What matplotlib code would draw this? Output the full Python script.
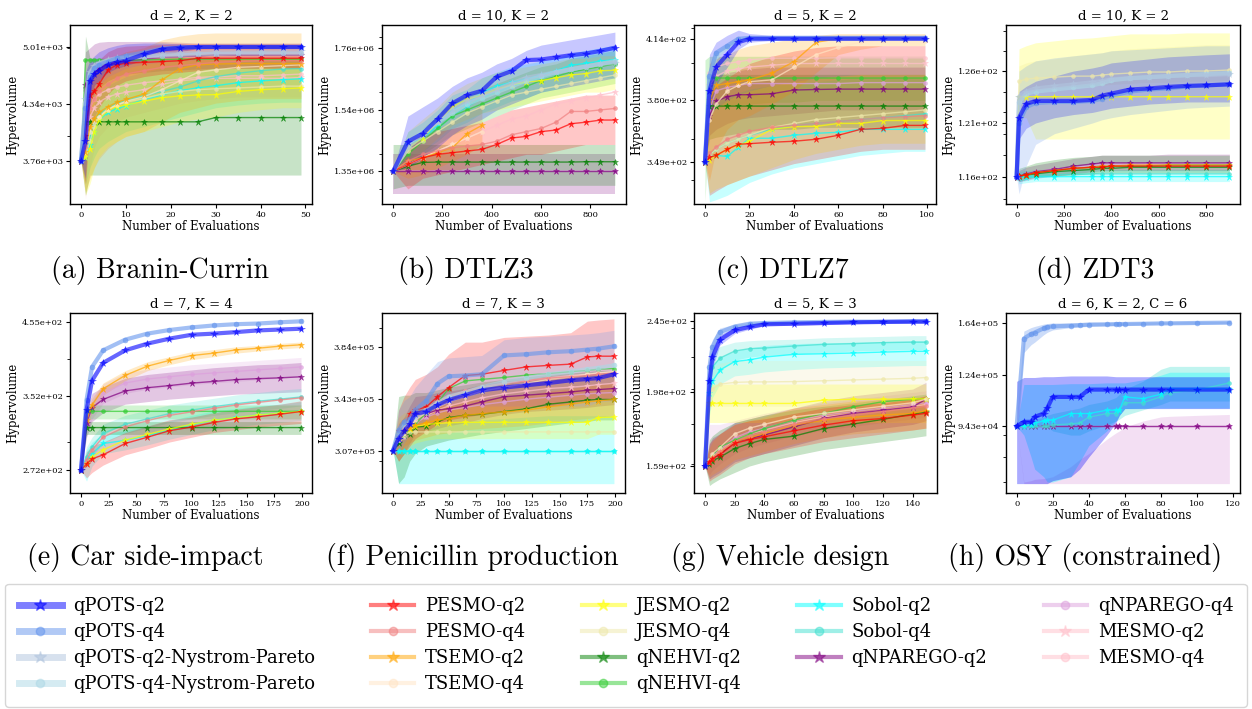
import numpy as np
import matplotlib.pyplot as plt
from matplotlib.lines import Line2D
from matplotlib.ticker import FixedLocator, FormatStrFormatter, NullFormatter

plt.rcParams['font.family'] = 'DejaVu Serif'
plt.rcParams['axes.unicode_minus'] = False

methods = ['qPOTS-q2', 'qPOTS-q4', 'qPOTS-q2-Nystrom-Pareto', 'qPOTS-q4-Nystrom-Pareto',
           'PESMO-q2', 'PESMO-q4', 'TSEMO-q2', 'TSEMO-q4',
           'JESMO-q2', 'JESMO-q4', 'qNEHVI-q2', 'qNEHVI-q4',
           'Sobol-q2', 'Sobol-q4', 'qNPAREGO-q2',
           'qNPAREGO-q4', 'MESMO-q2', 'MESMO-q4']
colors = ['blue', 'cornflowerblue', 'lightsteelblue', 'lightblue',
          'red', 'lightcoral', 'orange', 'bisque',
          'yellow', 'palegoldenrod', 'green', 'limegreen',
          'cyan', 'turquoise', 'purple',
          'plum', 'pink', 'pink']

# ---- (a) Branin-Currin ----
bc_x = [0, 1, 2, 3, 4, 6, 8, 10, 14, 18, 22, 26, 30, 35, 40, 45, 49]
bc_mean = {
    'qPOTS-q2': [3760, 3950, 4600, 4680, 4720, 4790, 4820, 4840, 4920, 4980, 5000, 5010, 5010, 5010, 5010, 5010, 5010],
    'qPOTS-q4': [3760, 4300, 4650, 4750, 4790, 4830, 4870, 4900, 4940, 4990, 5005, 5010, 5012, 5012, 5012, 5012, 5012],
    'qPOTS-q2-Nystrom-Pareto': [3760, 4400, 4700, 4780, 4810, 4850, 4870, 4880, 4900, 4920, 4930, 4940, 4950, 4950, 4950, 4955, 4955],
    'qPOTS-q4-Nystrom-Pareto': [3760, 4350, 4680, 4760, 4800, 4840, 4860, 4870, 4890, 4900, 4910, 4920, 4925, 4930, 4930, 4930, 4930],
    'PESMO-q2': [3760, 4000, 4445, 4480, 4560, 4730, 4790, 4810, 4820, 4830, 4840, 4870, 4870, 4870, 4870, 4870, 4870],
    'PESMO-q4': [3760, 3900, 4300, 4400, 4480, 4560, 4630, 4680, 4720, 4760, 4780, 4800, 4820, 4830, 4840, 4840, 4840],
    'TSEMO-q2': [3760, 3850, 4100, 4180, 4250, 4310, 4360, 4390, 4450, 4610, 4745, 4790, 4800, 4805, 4805, 4805, 4805],
    'TSEMO-q4': [3760, 3850, 4050, 4150, 4200, 4280, 4330, 4370, 4420, 4500, 4600, 4700, 4730, 4760, 4770, 4780, 4790],
    'JESMO-q2': [3760, 3800, 3880, 4050, 4170, 4280, 4310, 4330, 4370, 4410, 4430, 4440, 4445, 4480, 4500, 4510, 4520],
    'JESMO-q4': [3760, 3820, 3950, 4100, 4200, 4290, 4330, 4360, 4400, 4450, 4480, 4500, 4510, 4520, 4530, 4540, 4540],
    'qNEHVI-q2': [3760, 4150, 4150, 4150, 4150, 4150, 4150, 4150, 4150, 4150, 4150, 4150, 4195, 4195, 4195, 4195, 4195],
    'qNEHVI-q4': [3760, 4848, 4848, 4848, 4848, 4848, 4848, 4848, 4850, 4855, 4860, 4860, 4860, 4860, 4860, 4860, 4860],
    'Sobol-q2': [3760, 3800, 3913, 4050, 4170, 4250, 4290, 4320, 4390, 4440, 4490, 4520, 4545, 4580, 4600, 4615, 4625],
    'Sobol-q4': [3760, 3850, 4000, 4150, 4230, 4300, 4350, 4380, 4430, 4480, 4530, 4600, 4650, 4690, 4720, 4740, 4745],
    'qNPAREGO-q2': [3760, 4550, 4620, 4700, 4750, 4800, 4820, 4840, 4860, 4880, 4890, 4900, 4910, 4910, 4910, 4910, 4910],
    'qNPAREGO-q4': [3760, 4500, 4650, 4720, 4760, 4800, 4830, 4850, 4870, 4900, 4920, 4930, 4935, 4935, 4935, 4935, 4935],
    'MESMO-q2': [3760, 3900, 4200, 4300, 4360, 4420, 4450, 4470, 4500, 4560, 4600, 4620, 4630, 4630, 4630, 4630, 4640],
    'MESMO-q4': [3760, 3950, 4300, 4400, 4450, 4500, 4530, 4550, 4580, 4600, 4620, 4640, 4650, 4660, 4660, 4670, 4680],
}
bc_lo = {
    'qPOTS-q2': [3760, 3600, 4400, 4550, 4600, 4700, 4750, 4780, 4850, 4920, 4950, 4990, 5000, 5000, 5000, 5000, 5000],
    'qNPAREGO-q2': [3760, 4100, 4350, 4450, 4520, 4600, 4650, 4680, 4700, 4720, 4730, 4740, 4750, 4750, 4750, 4750, 4750],
    'qNEHVI-q2': [3760, 3450, 3630, 3630, 3630, 3630, 3630, 3630, 3630, 3630, 3630, 3630, 3630, 3630, 3630, 3630, 3630],
    'TSEMO-q2': [3760, 3480, 3600, 3700, 3780, 3880, 3950, 4000, 4050, 4150, 4250, 4300, 4350, 4380, 4400, 4400, 4400],
    'Sobol-q2': [3760, 3550, 3700, 3800, 3880, 3950, 4000, 4050, 4100, 4150, 4200, 4250, 4300, 4330, 4350, 4360, 4360],
    'JESMO-q2': [3760, 3450, 3550, 3700, 3800, 3900, 3950, 4000, 4050, 4100, 4150, 4180, 4200, 4250, 4280, 4300, 4300],
    'PESMO-q2': [3760, 3550, 4100, 4200, 4300, 4450, 4550, 4600, 4650, 4680, 4700, 4720, 4750, 4750, 4750, 4750, 4750],
    'MESMO-q2': [3760, 3420, 3700, 3900, 4000, 4100, 4150, 4200, 4250, 4300, 4350, 4380, 4400, 4420, 4420, 4420, 4420],
}
bc_hi = {
    'qPOTS-q2': [3760, 4700, 4850, 4900, 4950, 5000, 5030, 5050, 5060, 5060, 5050, 5030, 5030, 5030, 5030, 5030, 5030],
    'qNPAREGO-q2': [3760, 4950, 5000, 5050, 5070, 5080, 5080, 5080, 5080, 5080, 5070, 5060, 5060, 5060, 5060, 5060, 5060],
    'qNEHVI-q2': [3760, 5150, 4870, 4870, 4870, 4870, 4870, 4870, 4870, 4870, 4870, 4870, 4870, 4870, 4870, 4870, 4870],
    'TSEMO-q2': [3760, 4300, 4600, 4700, 4780, 4850, 4900, 4950, 5000, 5100, 5150, 5180, 5190, 5190, 5190, 5190, 5190],
    'Sobol-q2': [3760, 4050, 4200, 4350, 4450, 4550, 4600, 4650, 4700, 4750, 4780, 4800, 4820, 4840, 4850, 4860, 4860],
    'JESMO-q2': [3760, 4150, 4350, 4450, 4550, 4650, 4700, 4750, 4800, 4820, 4840, 4850, 4860, 4870, 4880, 4880, 4880],
    'PESMO-q2': [3760, 4500, 4750, 4800, 4850, 4950, 5000, 5020, 5030, 5040, 5050, 5050, 5050, 5050, 5050, 5050, 5050],
    'MESMO-q2': [3760, 4300, 4600, 4650, 4700, 4750, 4780, 4800, 4820, 4840, 4850, 4860, 4870, 4870, 4870, 4870, 4870],
}

# ---- (b) DTLZ3, hypervolume in millions ----
dtlz3_x = [0, 60, 120, 180, 240, 300, 360, 420, 480, 540, 600, 660, 720, 780, 840, 899]
dtlz3_mean = {
    'qPOTS-q2': [1.35, 1.439, 1.464, 1.510, 1.562, 1.590, 1.605, 1.654, 1.674, 1.714, 1.716, 1.724, 1.732, 1.738, 1.748, 1.760],
    'qPOTS-q2-Nystrom-Pareto': [1.35, 1.42, 1.46, 1.50, 1.54, 1.57, 1.59, 1.61, 1.63, 1.65, 1.66, 1.67, 1.68, 1.69, 1.70, 1.705],
    'qPOTS-q4-Nystrom-Pareto': [1.35, 1.43, 1.47, 1.50, 1.53, 1.56, 1.58, 1.60, 1.62, 1.64, 1.655, 1.67, 1.68, 1.69, 1.70, 1.71],
    'PESMO-q2': [1.35, 1.37, 1.39, 1.40, 1.405, 1.41, 1.415, 1.43, 1.45, 1.455, 1.47, 1.475, 1.495, 1.50, 1.507, 1.507],
    'PESMO-q4': [1.35, 1.38, 1.40, 1.41, 1.42, 1.425, 1.43, 1.44, 1.46, 1.47, 1.48, 1.50, 1.535, 1.535, 1.54, 1.545],
    'TSEMO-q2': [1.35, 1.38, 1.39, 1.405, 1.42, 1.464, 1.49, None, None, None, None, None, None, None, None, None],
    'TSEMO-q4': [1.35, 1.37, 1.39, 1.41, 1.43, 1.45, 1.47, None, None, None, None, None, None, None, None, None],
    'JESMO-q2': [1.35, 1.42, 1.45, 1.50, 1.55, 1.575, 1.59, 1.61, 1.625, 1.635, 1.64, 1.65, 1.66, 1.665, 1.675, 1.677],
    'JESMO-q4': [1.35, 1.41, 1.44, 1.47, 1.50, 1.53, 1.55, 1.57, 1.59, 1.60, 1.61, 1.62, 1.63, 1.64, 1.65, 1.66],
    'qNEHVI-q2': [1.35, 1.365, 1.376, 1.377, 1.377, 1.377, 1.377, 1.377, 1.377, 1.377, 1.377, 1.377, 1.377, 1.378, 1.378, 1.378],
    'qNEHVI-q4': [1.35, 1.40, 1.44, 1.48, 1.52, 1.54, 1.56, 1.58, 1.60, 1.62, 1.64, 1.655, 1.67, 1.68, 1.69, 1.70],
    'Sobol-q2': [1.35, 1.43, 1.45, 1.49, 1.54, 1.56, 1.60, 1.62, 1.635, 1.645, 1.66, 1.675, 1.695, 1.702, 1.71, 1.716],
    'Sobol-q4': [1.35, 1.42, 1.45, 1.48, 1.52, 1.55, 1.58, 1.60, 1.62, 1.635, 1.65, 1.665, 1.68, 1.69, 1.70, 1.705],
    'qNPAREGO-q2': [1.35, 1.35, 1.35, 1.35, 1.35, 1.35, 1.35, 1.35, 1.35, 1.35, 1.35, 1.35, 1.35, 1.35, 1.35, 1.35],
    'qNPAREGO-q4': [1.35, 1.351, 1.351, 1.351, 1.351, 1.351, 1.351, 1.351, 1.351, 1.351, 1.351, 1.351, 1.351, 1.351, 1.351, 1.351],
    'MESMO-q2': [1.35, 1.37, 1.39, 1.41, 1.43, 1.45, 1.47, 1.49, 1.51, 1.52, 1.54, 1.56, 1.57, 1.58, 1.59, 1.60],
}
dtlz3_lo = {
    'qPOTS-q2': [1.35, 1.36, 1.39, 1.42, 1.46, 1.49, 1.51, 1.54, 1.56, 1.58, 1.60, 1.61, 1.62, 1.63, 1.64, 1.65],
    'Sobol-q2': [1.35, 1.39, 1.41, 1.44, 1.48, 1.50, 1.53, 1.55, 1.57, 1.58, 1.60, 1.61, 1.63, 1.64, 1.65, 1.65],
    'JESMO-q2': [1.35, 1.38, 1.41, 1.45, 1.49, 1.51, 1.53, 1.54, 1.55, 1.56, 1.57, 1.58, 1.59, 1.60, 1.60, 1.61],
    'qNEHVI-q4': [1.35, 1.36, 1.40, 1.43, 1.46, 1.48, 1.50, 1.52, 1.54, 1.56, 1.58, 1.59, 1.60, 1.61, 1.62, 1.63],
    'PESMO-q2': [1.35, 1.30, 1.33, 1.34, 1.35, 1.36, 1.37, 1.38, 1.39, 1.40, 1.40, 1.41, 1.42, 1.43, 1.43, 1.43],
    'TSEMO-q2': [1.35, 1.33, 1.34, 1.36, 1.38, 1.40, 1.43, None, None, None, None, None, None, None, None, None],
    'qNEHVI-q2': [1.30, 1.31, 1.31, 1.31, 1.31, 1.31, 1.31, 1.31, 1.31, 1.31, 1.31, 1.31, 1.31, 1.31, 1.31, 1.31],
    'qNPAREGO-q2': [1.285, 1.285, 1.285, 1.285, 1.285, 1.285, 1.285, 1.285, 1.285, 1.285, 1.285, 1.285, 1.285, 1.285, 1.285, 1.285],
}
dtlz3_hi = {
    'qPOTS-q2': [1.35, 1.52, 1.55, 1.58, 1.62, 1.65, 1.67, 1.70, 1.72, 1.75, 1.77, 1.78, 1.79, 1.80, 1.81, 1.82],
    'Sobol-q2': [1.35, 1.47, 1.50, 1.54, 1.59, 1.61, 1.65, 1.67, 1.69, 1.70, 1.71, 1.72, 1.74, 1.75, 1.76, 1.77],
    'JESMO-q2': [1.35, 1.47, 1.51, 1.55, 1.60, 1.63, 1.65, 1.67, 1.68, 1.69, 1.70, 1.71, 1.72, 1.72, 1.73, 1.73],
    'qNEHVI-q4': [1.35, 1.44, 1.48, 1.52, 1.57, 1.59, 1.61, 1.63, 1.65, 1.67, 1.69, 1.70, 1.72, 1.73, 1.74, 1.75],
    'PESMO-q2': [1.35, 1.44, 1.46, 1.47, 1.48, 1.49, 1.50, 1.52, 1.54, 1.55, 1.56, 1.57, 1.58, 1.59, 1.59, 1.59],
    'TSEMO-q2': [1.35, 1.44, 1.46, 1.48, 1.50, 1.53, 1.56, None, None, None, None, None, None, None, None, None],
    'qNEHVI-q2': [1.43, 1.43, 1.43, 1.43, 1.43, 1.43, 1.43, 1.43, 1.43, 1.43, 1.43, 1.43, 1.43, 1.43, 1.43, 1.43],
    'qNPAREGO-q2': [1.40, 1.40, 1.40, 1.40, 1.40, 1.40, 1.40, 1.40, 1.40, 1.40, 1.40, 1.40, 1.40, 1.40, 1.40, 1.40],
}

# ---- (c) DTLZ7 ----
dtlz7_x = [0, 2, 5, 10, 15, 20, 30, 40, 50, 60, 70, 80, 90, 99]
dtlz7_mean = {
    'qPOTS-q2': [349, 385, 398, 405, 412, 414, 414, 414, 414, 414, 414, 414, 414, 414],
    'qPOTS-q4': [349, 393, 406, 410, 414, 414.5, 414.5, 414.5, 414.5, 414.5, 414.5, 414.5, 414.5, 414.5],
    'qPOTS-q4-Nystrom-Pareto': [349, 392, 404, 409, 413, 414, 414, 414, 414, 414, 414, 414, 414, 414],
    'PESMO-q2': [349, 351, 352, 355, 357.5, 357.8, 358.5, 359, 360, 362, 365, 365.5, 367, 367],
    'PESMO-q4': [349, 353, 356, 360, 362, 364, 366, 367, 368, 369, 370, 371, 371.5, 372],
    'TSEMO-q2': [349, 380, 388, 389, 390, 391, 394.6, 401, 412, 414, 414, 414, 414, 414],
    'TSEMO-q4': [349, 370, 378, 385, 388, 390, 391, 398, 405, 409, 412, 413, 413, 413],
    'JESMO-q2': [349, 350, 352, 355, 357, 359, 365, 366.4, 366.5, 368, 368, 369.5, 369.5, 369.5],
    'JESMO-q4': [349, 352, 355, 358, 360, 362, 366, 368, 370, 371, 372, 373, 374, 375],
    'qNEHVI-q2': [349, 377, 377, 377, 377, 377, 377, 377, 377, 377, 377, 377, 377, 377],
    'qNEHVI-q4': [349, 392, 392, 392, 392, 392, 392, 392, 392, 392, 392, 392, 392, 392],
    'Sobol-q2': [349, 351, 352, 351.5, 356, 360.5, 360.5, 362, 363, 363.5, 365, 365, 365, 365],
    'Sobol-q4': [349, 352, 355, 358, 360, 362, 365, 367, 368, 369, 370, 371, 372, 373],
    'qNPAREGO-q2': [349, 372, 379.5, 382, 383, 383, 383.5, 385.5, 385.8, 386, 386, 386, 386, 386],
    'qNPAREGO-q4': [349, 375, 385, 387, 388, 389, 389, 389, 389, 389, 389.5, 389.5, 389.5, 389.5],
    'MESMO-q2': [349, 388, 393, 396, 397, 398, 399, 400, 400, 400, 400, 400, 400, 400],
    'MESMO-q4': [349, 395, 398, 400, 401, 402, 403, 403, 403, 403.2, 403.2, 403.2, 403.2, 403.2],
}
dtlz7_lo = {
    'qPOTS-q2': [349, 370, 388, 398, 408, 412, 413, 413, 413, 413, 413, 413, 413, 413],
    'TSEMO-q2': [349, 340, 355, 365, 370, 372, 378, 385, 395, 405, 408, 410, 410, 410],
    'PESMO-q2': [349, 333, 335, 338, 340, 342, 345, 348, 350, 352, 354, 355, 355, 355],
    'Sobol-q2': [349, 330, 331, 333, 336, 339, 343, 346, 348, 350, 352, 353, 354, 354],
    'qNEHVI-q4': [330, 375, 376, 377, 378, 378, 379, 379, 380, 380, 380, 380, 380, 380],
    'qNEHVI-q2': [349, 360, 361, 362, 363, 364, 365, 365, 366, 366, 366, 366, 366, 366],
    'qNPAREGO-q2': [349, 362, 365, 368, 370, 371, 372, 373, 374, 375, 375, 375, 375, 375],
    'JESMO-q2': [349, 334, 336, 338, 340, 342, 346, 350, 353, 355, 357, 358, 358, 358],
}
dtlz7_hi = {
    'qPOTS-q2': [349, 405, 412, 416, 419, 417, 416, 416, 416, 416, 416, 416, 416, 416],
    'TSEMO-q2': [349, 400, 403, 405, 408, 410, 412, 414, 416, 417, 417, 417, 417, 417],
    'PESMO-q2': [349, 385, 388, 392, 396, 400, 404, 407, 409, 410, 410, 410, 410, 410],
    'Sobol-q2': [349, 378, 380, 382, 384, 386, 388, 389, 390, 391, 392, 392, 392, 392],
    'qNEHVI-q4': [402, 404, 404, 404, 404, 404, 404, 404, 404, 404, 404, 404, 404, 404],
    'qNEHVI-q2': [349, 394, 394, 394, 394, 394, 394, 394, 394, 394, 394, 394, 394, 394],
    'qNPAREGO-q2': [349, 390, 393, 395, 396, 397, 398, 398, 398, 398, 398, 398, 398, 398],
    'JESMO-q2': [349, 372, 376, 380, 383, 385, 388, 390, 392, 393, 394, 394, 394, 394],
}

# ---- (d) ZDT3 ----
zdt3_x = [0, 10, 40, 80, 160, 240, 320, 360, 400, 480, 560, 640, 720, 800, 899]
zdt3_mean = {
    'qPOTS-q2': [116, 121.5, 122.8, 123.1, 123.1, 123.1, 123.2, 123.6, 123.8, 124.2, 124.3, 124.45, 124.55, 124.6, 124.7],
    'qPOTS-q4': [116, 121, 122.5, 122.9, 123.0, 123.0, 123.1, 123.3, 123.6, 124.0, 124.2, 124.3, 124.5, 124.6, 124.7],
    'qPOTS-q2-Nystrom-Pareto': [116, 123.5, 124, 124.3, 124.5, 124.7, 124.9, 125, 125.2, 125.3, 125.4, 125.5, 125.6, 125.6, 125.7],
    'qPOTS-q4-Nystrom-Pareto': [116, 123, 123.8, 124, 124.2, 124.4, 124.6, 124.8, 125.1, 125.3, 125.4, 125.5, 125.6, 125.7, 125.8],
    'PESMO-q2': [116, 116.1, 116.2, 116.4, 116.6, 116.8, 116.9, 116.9, 117.0, 117.0, 117.0, 117.0, 117.0, 117.0, 117.0],
    'TSEMO-q2': [116, 116.1, 116.2, 116.4, 116.6, 116.8, 116.9, 117.0, 117.0, 117.1, 117.1, 117.1, 117.1, 117.1, 117.1],
    'JESMO-q2': [116, 123.5, 123.5, 123.5, 123.5, 123.5, 123.5, 123.5, 123.5, 123.5, 123.5, 123.5, 123.5, 123.5, 123.5],
    'JESMO-q4': [116, 125, 125.2, 125.3, 125.4, 125.5, 125.5, 125.6, 125.7, 125.8, 125.9, 125.9, 126, 126, 126.1],
    'qNEHVI-q2': [116, 116.1, 116.2, 116.3, 116.5, 116.6, 116.7, 116.8, 116.8, 116.9, 116.9, 116.9, 116.9, 116.9, 116.9],
    'qNEHVI-q4': [116, 116.1, 116.2, 116.4, 116.6, 116.8, 116.9, 116.9, 117.0, 117.0, 117.0, 117.1, 117.1, 117.1, 117.1],
    'Sobol-q2': [116, 116.0, 116.02, 116.03, 116.04, 116.05, 116.05, 116.05, 116.05, 116.05, 116.05, 116.05, 116.05, 116.05, 116.05],
    'Sobol-q4': [116, 116.05, 116.1, 116.15, 116.2, 116.25, 116.3, 116.3, 116.3, 116.3, 116.3, 116.3, 116.3, 116.3, 116.3],
    'qNPAREGO-q2': [116, 116.1, 116.3, 116.5, 116.7, 117.0, 117.2, 117.3, 117.3, 117.3, 117.3, 117.3, 117.3, 117.3, 117.3],
    'qNPAREGO-q4': [116, 116.1, 116.3, 116.5, 116.7, 116.9, 117.1, 117.2, 117.2, 117.2, 117.2, 117.2, 117.2, 117.2, 117.2],
    'MESMO-q4': [116, 116.1, 116.3, 116.5, 116.7, 116.9, 117.1, 117.2, 117.2, 117.2, 117.2, 117.2, 117.2, 117.2, 117.2],
}
zdt3_lo = {
    'JESMO-q2': [116, 121.5, 121.5, 119.5, 119.5, 119.5, 119.5, 119.5, 119.5, 119.5, 119.5, 119.5, 119.5, 119.5, 119.5],
    'qPOTS-q2': [116, 119.5, 120.5, 121, 121.5, 121.8, 122, 122.2, 122.4, 122.6, 122.8, 122.9, 123, 123, 123],
    'qPOTS-q4': [116, 114.5, 117, 119, 120, 120.5, 121, 121.3, 121.5, 121.8, 122, 122.2, 122.4, 122.5, 122.6],
    'JESMO-q4': [116, 124, 124.2, 124.3, 124.4, 124.5, 124.5, 124.6, 124.7, 124.8, 124.9, 124.9, 125, 125, 125.1],
    'qNPAREGO-q2': [116, 115.6, 115.7, 115.9, 116.1, 116.3, 116.5, 116.6, 116.6, 116.6, 116.6, 116.6, 116.6, 116.6, 116.6],
    'qNEHVI-q2': [116, 115.6, 115.8, 116.0, 116.1, 116.2, 116.3, 116.4, 116.4, 116.4, 116.4, 116.4, 116.4, 116.4, 116.4],
    'Sobol-q2': [116, 115.4, 115.5, 115.6, 115.6, 115.6, 115.6, 115.6, 115.6, 115.6, 115.6, 115.6, 115.6, 115.6, 115.6],
}
zdt3_hi = {
    'JESMO-q2': [116, 128.2, 128.5, 128.8, 129, 129.2, 129.3, 129.4, 129.5, 129.7, 129.7, 129.7, 129.8, 129.8, 129.8],
    'qPOTS-q2': [116, 124, 124.5, 125, 125.5, 126, 126.3, 126.5, 126.8, 127, 127.2, 127.4, 127.5, 127.6, 127.7],
    'qPOTS-q4': [116, 126, 126.5, 127, 127.3, 127.5, 127.7, 127.8, 128, 128.1, 128.2, 128.3, 128.4, 128.5, 128.5],
    'JESMO-q4': [116, 126.5, 126.8, 127, 127.2, 127.5, 127.7, 127.8, 128, 128.2, 128.3, 128.4, 128.5, 128.6, 128.6],
    'qNPAREGO-q2': [116, 116.6, 116.9, 117.1, 117.4, 117.7, 117.9, 118.0, 118.0, 118.0, 118.0, 118.1, 118.1, 118.1, 118.1],
    'qNEHVI-q2': [116, 116.8, 117.0, 117.3, 117.6, 117.8, 117.9, 118.0, 118.0, 118.0, 118.0, 118.0, 118.0, 118.0, 118.0],
    'Sobol-q2': [116, 116.5, 116.6, 116.7, 116.7, 116.7, 116.7, 116.7, 116.7, 116.7, 116.7, 116.7, 116.7, 116.7, 116.7],
}

# ---- (e) Car side-impact ----
car_x = [0, 5, 10, 20, 40, 60, 80, 100, 120, 140, 160, 180, 199]
car_mean = {
    'qPOTS-q2': [272, 335, 371, 394.5, 412, 421.6, 429, 434.8, 436.5, 438.8, 441.4, 442.7, 444],
    'qPOTS-q4': [272, 347, 389, 412, 427.5, 436.5, 442, 446, 449, 451, 452, 454, 455.5],
    'PESMO-q2': [272, 278, 283, 287, 298.5, 305, 312, 316, 321, 325, 327.4, 330.3, 333.4],
    'PESMO-q4': [272, 282, 292, 305, 316, 323, 329, 333, 337, 341, 344, 347, 349.5],
    'TSEMO-q2': [272, 323.5, 341, 360.7, 377.8, 390, 397.9, 404.6, 408, 412.6, 415, 418, 420],
    'JESMO-q2': [272, 279, 285, 292, 302, 308, 314, 319, 323.5, 326.5, 329.5, 331.5, 333.5],
    'qNEHVI-q2': [272, 315.4, 315.4, 315.4, 315.4, 315.4, 315.4, 315.4, 315.4, 315.4, 315.4, 315.4, 315.4],
    'qNEHVI-q4': [272, 333.6, 333.6, 333.6, 333.6, 333.6, 333.6, 333.6, 333.6, 333.6, 333.6, 333.6, 333.6],
    'Sobol-q2': [272, 280, 288, 298.5, 301.7, 306.7, 313, 318.5, 323.6, 326.6, 329.6, 331.5, 334.2],
    'Sobol-q4': [272, 285, 295, 309, 319, 325, 331, 335, 339, 342.5, 345.5, 348, 350.6],
    'qNPAREGO-q2': [272, 320, 338, 347.7, 358, 362, 364.7, 367.8, 370, 372.3, 373.6, 374.6, 376],
    'qNPAREGO-q4': [272, 320, 335, 355, 368, 373, 376, 379, 381, 383, 385, 387, 389],
    'MESMO-q4': [272, 283, 293, 306, 318, 325, 330, 334, 338, 341.5, 345, 347.5, 350],
}
car_lo = {
    'qNPAREGO-q2': [272, 305, 322, 332, 342, 345, 348, 350, 352, 354, 355, 356, 357],
    'qNPAREGO-q4': [272, 310, 325, 343, 355, 360, 363, 366, 368, 370, 372, 374, 376],
    'qNEHVI-q4': [272, 325, 325, 325, 325, 325, 325, 325, 325, 325, 325, 325, 325],
    'qNEHVI-q2': [272, 308, 308, 308, 308, 308, 308, 308, 308, 308, 308, 308, 308],
    'TSEMO-q2': [272, 315, 333, 353, 371, 384, 392, 399, 403, 408, 411, 414, 416],
    'PESMO-q2': [272, 265, 270, 277, 287, 293, 300, 305, 310, 313, 316, 318, 320],
    'Sobol-q2': [272, 262, 276, 288, 292, 297, 303, 308, 313, 316, 319, 321, 323],
    'Sobol-q4': [272, 275, 285, 299, 309, 315, 321, 325, 329, 332, 335, 337, 340],
}
car_hi = {
    'qNPAREGO-q2': [272, 335, 355, 363, 374, 379, 382, 385, 388, 390, 392, 393, 395],
    'qNPAREGO-q4': [272, 330, 345, 367, 381, 386, 389, 392, 394, 396, 398, 400, 402],
    'qNEHVI-q4': [272, 341, 341, 341, 341, 341, 341, 341, 341, 341, 341, 341, 341],
    'qNEHVI-q2': [272, 322, 322, 322, 322, 322, 322, 322, 322, 322, 322, 322, 322],
    'TSEMO-q2': [272, 332, 349, 368, 384, 396, 403, 410, 413, 417, 419, 422, 424],
    'PESMO-q2': [272, 290, 296, 300, 310, 317, 324, 327, 332, 336, 339, 342, 346],
    'Sobol-q2': [272, 292, 300, 309, 312, 317, 323, 329, 334, 337, 340, 342, 345],
    'Sobol-q4': [272, 295, 305, 319, 329, 335, 341, 345, 349, 353, 356, 359, 361],
}

# ---- (f) Penicillin production, hypervolume in thousands ----
pen_x = [0, 5, 10, 15, 20, 30, 40, 50, 65, 80, 100, 120, 140, 160, 175, 185, 199]
pen_mean = {
    'qPOTS-q2': [307, 315, 320, 325, 332.5, 334, 338.6, 342.3, 346, 349.7, 351.7, 353.5, 355.2, 357.3, 358.3, 359, 362],
    'qPOTS-q4': [307, 320.8, 326.6, 329, 335, 342, 354.7, 360.4, 361, 362, 377, 378, 379.6, 380.5, 381.8, 382.6, 384.5],
    'qPOTS-q4-Nystrom-Pareto': [307, 318, 324, 327, 330, 335, 340, 345, 348, 352, 356, 359, 362, 364, 366, 367, 369],
    'PESMO-q2': [307, 320, 322, 332.5, 335, 337.4, 344.8, 351.7, 361, 362, 365, 367.8, 369, 370, 375.8, 376.4, 376.4],
    'PESMO-q4': [307, 317, 322, 327, 331, 336, 341, 345, 349, 352, 355, 357, 359, 360, 361, 362, 363],
    'TSEMO-q2': [307, 316, 320, 322, 324.3, 326, 327.8, 329, 331.3, 332.5, 333.7, 335, 337.4, 339.3, 341, 341.8, 342.8],
    'TSEMO-q4': [307, 314, 319, 323, 328, 333, 337, 341, 345, 349, 352, 355, 358, 360, 362, 363, 364],
    'JESMO-q2': [307, 318.5, 320, 321.5, 323.5, 324.8, 325.5, 326, 326.3, 326.3, 326.3, 326.3, 326.3, 326.3, 326.3, 329.7, 330],
    'JESMO-q4': [307, 314, 317, 319.6, 319.6, 319.6, 319.6, 319.6, 319.6, 319.6, 319.6, 319.6, 319.6, 319.6, 319.6, 319.6, 319.6],
    'qNEHVI-q2': [307, 312, 317.4, 318.5, 323, 323.5, 326.6, 329.7, 331.3, 332, 334, 336, 339.3, 341, 342.3, 342.8, 342.8],
    'qNEHVI-q4': [307, 313, 318, 321, 325, 333, 340, 351, 356.8, 358, 359.5, 361.3, 362.5, 364, 365, 366, 366.5],
    'Sobol-q2': [307, 307, 307, 307, 307, 307, 307, 307, 307, 307, 307, 307, 307, 307, 307, 307, 307],
    'Sobol-q4': [307, 307, 307, 307, 307, 307, 307, 307, 307, 307, 307, 307, 307, 307, 307, 307, 307],
    'qNPAREGO-q2': [307, 313, 318, 325, 331.3, 332.5, 335, 336, 338, 341, 344.8, 346, 347.2, 348.4, 349.7, 350.2, 351],
    'qNPAREGO-q4': [307, 312, 316, 321, 326, 330, 333, 335, 337, 339, 341, 343, 344.5, 346, 347, 347.5, 348],
    'MESMO-q2': [307, 314, 318, 322, 326, 331, 335, 338, 341, 344, 347, 349, 351, 352, 353, 354, 355],
    'MESMO-q4': [307, 316, 321, 325, 330, 336, 341, 345, 349, 352, 355, 357, 359, 361, 362, 363, 364],
}
pen_lo = {
    'PESMO-q2': [307, 300, 305, 310, 315, 320, 325, 328, 330, 332, 335, 337, 338, 340, 342, 343, 344],
    'Sobol-q2': [307, 285.8, 285.8, 285.8, 285.8, 285.8, 285.8, 285.8, 285.8, 285.8, 285.8, 285.8, 285.8, 285.8, 285.8, 285.8, 285.8],
    'qNEHVI-q2': [307, 286, 290, 300, 305, 310, 312, 314, 316, 318, 320, 322, 324, 326, 327, 328, 328],
    'qPOTS-q4': [307, 305, 312, 318, 322, 328, 338, 343, 345, 347, 355, 357, 359, 360, 361, 362, 363],
    'qNPAREGO-q2': [307, 300, 305, 312, 318, 320, 322, 324, 326, 329, 332, 334, 335, 336, 337, 338, 339],
    'TSEMO-q2': [307, 306, 310, 312, 314, 316, 318, 319, 321, 322, 323, 324, 326, 328, 329, 330, 331],
    'JESMO-q2': [307, 300, 305, 310, 312, 314, 315, 315, 315, 315, 315, 315, 315, 315, 315, 318, 318],
}
pen_hi = {
    'PESMO-q2': [307, 335, 345, 352, 358, 362, 368, 378, 388, 388, 392, 393, 394, 396, 406, 407, 408],
    'Sobol-q2': [307, 318, 322, 323, 323, 324, 325, 326, 327, 328, 329, 330, 331, 331, 331, 331, 331],
    'qNEHVI-q2': [307, 345, 346, 346, 348, 348, 350, 352, 354, 356, 358, 360, 362, 363, 364, 365, 365],
    'qPOTS-q4': [307, 335, 342, 345, 352, 362, 372, 375, 376, 377, 390, 392, 393, 394, 395, 396, 398],
    'qNPAREGO-q2': [307, 325, 330, 338, 345, 346, 348, 349, 351, 354, 357, 358, 359, 360, 362, 363, 364],
    'TSEMO-q2': [307, 326, 330, 332, 335, 336, 338, 339, 342, 343, 345, 346, 349, 351, 353, 354, 355],
    'JESMO-q2': [307, 330, 333, 334, 335, 336, 337, 338, 338, 338, 338, 338, 338, 338, 338, 341, 342],
}

# ---- (g) Vehicle design ----
veh_x = [0, 3, 5, 10, 20, 30, 40, 60, 80, 100, 120, 140, 149]
veh_mean = {
    'qPOTS-q2': [159, 204.6, 220, 231.6, 238.3, 240.7, 242.6, 243, 243.5, 244, 244.3, 244.5, 244.5],
    'qPOTS-q4': [159, 213.6, 227, 237, 241, 243, 243.5, 244, 244.3, 244.5, 244.5, 244.8, 244.8],
    'PESMO-q2': [159, 161, 162.5, 164.5, 170.1, 172, 173.5, 176.6, 179.6, 182, 183.2, 185.1, 186],
    'PESMO-q4': [159, 161, 163, 166, 171, 174, 176, 180, 183, 185, 187, 189, 190],
    'TSEMO-q2': [159, 161, 163, 165.7, 170.8, 173, 175.2, 179.6, 182.3, 183.8, 185.1, 186, 187.5],
    'TSEMO-q4': [159, 162, 165, 168, 175, 178, 180, 184, 186, 188, 190, 192, 194],
    'JESMO-q2': [159, 191.6, 191.6, 191.6, 191.6, 191.6, 191.6, 191.6, 193.5, 194, 194, 194.2, 194.2],
    'JESMO-q4': [159, 195, 200, 203, 204, 204.3, 204.3, 204.5, 205, 205.5, 206, 206.5, 207],
    'qNEHVI-q2': [159, 160, 161.5, 163.2, 167.5, 170, 172.1, 173.8, 177.8, 180.2, 182.7, 185.7, 186.6],
    'qNEHVI-q4': [159, 162, 164, 168.3, 171.7, 175, 177.8, 182.3, 186, 189.7, 192.6, 194, 194.4],
    'Sobol-q2': [159, 197.7, 204.6, 211.6, 217.1, 218.2, 220, 221.8, 222.2, 222.7, 223.3, 223.8, 223.8],
    'Sobol-q4': [159, 204.6, 213.6, 219.3, 224, 225.6, 226, 227.4, 228.5, 229, 229.7, 230, 230],
    'qNPAREGO-q2': [159, 161, 163, 164.5, 170.8, 172.5, 174.4, 178.7, 183.2, 186, 187.8, 189.7, 194],
    'qNPAREGO-q4': [159, 162, 164, 167, 173, 176, 178, 182, 185, 187, 189, 191, 192],
    'MESMO-q4': [159, 161, 163, 166, 172, 175, 177, 181, 184, 186, 188, 190, 191],
}
veh_lo = {
    'qPOTS-q2': [159, 196, 213, 228, 236, 239, 241.5, 242, 242.5, 243, 243.5, 243.5, 243.5],
    'qPOTS-q4': [159, 205, 222, 234, 239.5, 242, 242.8, 243, 243.5, 243.8, 243.8, 244, 244],
    'Sobol-q4': [159, 195, 205, 212, 218, 220, 221, 222, 223, 224, 224.5, 225, 225],
    'Sobol-q2': [159, 185, 195, 203, 208, 209, 210.5, 212, 213, 213.5, 214, 214.5, 214.5],
    'JESMO-q2': [159, 181, 181, 181, 181, 181, 181, 181, 181, 181, 181, 181, 181],
    'JESMO-q4': [159, 190, 190, 190, 190, 190, 190, 190, 190, 190, 190, 190, 190],
    'qNEHVI-q2': [159, 150, 151, 153, 156, 159, 161, 164, 167, 169, 171, 173, 174],
    'PESMO-q2': [159, 152, 153, 155, 160, 163, 165, 168, 171, 173, 175, 177, 178],
    'qNPAREGO-q2': [159, 153, 154, 156, 161, 163, 165, 169, 173, 176, 178, 180, 182],
    'TSEMO-q2': [159, 154, 155, 157, 162, 164, 166, 170, 173, 175, 176, 177, 178],
    'qNPAREGO-q4': [159, 155, 157, 160, 165, 168, 170, 174, 177, 179, 181, 183, 184],
}
veh_hi = {
    'qPOTS-q2': [159, 213, 227, 235, 240.5, 242.5, 243.7, 244, 244.5, 245, 245.2, 245.5, 245.5],
    'qPOTS-q4': [159, 222, 232, 240, 242.5, 244, 244.5, 245, 245.2, 245.4, 245.4, 245.6, 245.6],
    'Sobol-q4': [159, 214, 222, 227, 230, 231, 231.5, 232, 233, 233.5, 234, 234.5, 234.5],
    'Sobol-q2': [159, 210, 215, 220, 224, 226, 227.7, 229, 229.5, 230, 230.5, 231, 231],
    'JESMO-q2': [159, 203, 203, 203, 203, 203, 203, 203, 203, 203, 203, 203, 203],
    'JESMO-q4': [159, 212, 214, 216, 217.8, 217.8, 217.8, 217.8, 217.8, 217.8, 217.8, 217.8, 217.8],
    'qNEHVI-q2': [159, 172, 174, 177, 181, 183, 185, 188, 190, 192, 194, 196, 197],
    'PESMO-q2': [159, 170, 172, 175, 180, 182, 183, 186, 189, 191, 192, 194, 196],
    'qNPAREGO-q2': [159, 170, 173, 175, 181, 183, 185, 189, 193, 196, 198, 200, 204],
    'TSEMO-q2': [159, 168, 171, 175, 180, 182, 184, 189, 191, 193, 194, 195, 196],
    'qNPAREGO-q4': [159, 180, 180, 180, 182, 184, 186, 189, 192, 194, 196, 198, 199],
}

# ---- (h) OSY (constrained), hypervolume in thousands ----
osy_x = [0, 4, 8, 10, 15, 17, 20, 30, 35, 40, 50, 55, 57, 60, 70, 80, 85, 100, 118]
osy_mean = {
    'qPOTS-q2': [94.3, 96.6, 96.6, 99.2, 101, 104, 110.4, 110.4, 110.4, 114.8, 114.8, 114.8, 114.8, 114.8, 114.8, 114.8, 114.8, 114.8, 114.8],
    'qPOTS-q4': [94.3, 150.9, 154.6, 155.8, 159.4, 160.5, 161, 161.7, 162.1, 162.6, 162.8, 163, 163, 163.1, 163.3, 163.6, 163.7, 164, 164.3],
    'Sobol-q2': [94.3, 94.3, 95, 96, 97, 97.3, 97.5, 101, 101, 101, 102.8, 102.8, 102.8, 110.4, 109.4, 112, 115.4, 115.4, 115.4],
    'Sobol-q4': [94.3, 94.3, 94.3, 94.3, 94.3, 94.3, 95, 95.5, 96, 99, 101, 101, 103, 107, 107, 110.4, 113, 114.5, 119],
    'qNPAREGO-q2': [94.3, 94.3, 94.3, 94.3, 94.3, 94.3, 94.3, 94.3, 94.3, 94.3, 94.3, 94.3, 94.3, 94.3, 94.3, 94.3, 94.3, 94.3, 94.3],
    'qNPAREGO-q4': [94.3, 94.3, 94.3, 94.3, 94.3, 94.3, 94.3, 94.3, 94.3, 94.3, 94.3, 94.3, 94.3, 94.3, 94.3, 94.3, 94.3, 94.3, 94.3],
}
osy_lo = {
    'qPOTS-q2': [69.4, 69.4, 69.4, 69.4, 69.4, 69.4, 70.5, 72, 75, 80, 90, 96, 100, 103.7, 103.7, 103.7, 103.7, 103.7, 103.7],
    'qPOTS-q4': [94.3, 140, 146, 148, 154, 156, 158, 160, 160.5, 161, 161.5, 162, 162, 162, 162.5, 163, 163, 163, 163.5],
    'Sobol-q2': [94.3, 90, 80, 75, 72, 70, 70, 72, 78, 85, 92, 97, 100, 103.7, 104, 104, 104, 104, 104],
    'Sobol-q4': [94.3, 94.3, 94.3, 94.3, 94.3, 94.3, 92, 90, 90, 92, 95, 97, 98, 100, 103, 106, 108, 108, 108],
    'qNPAREGO-q4': [94.3, 69.4, 69.4, 69.4, 69.4, 69.4, 69.4, 69.4, 69.4, 69.4, 69.4, 69.4, 69.4, 69.4, 69.4, 69.4, 69.4, 69.4, 69.4],
}
osy_hi = {
    'qPOTS-q2': [120, 122.5, 122.5, 122.5, 123, 123, 123, 123.5, 123.5, 123.5, 123.5, 123, 123, 123, 123, 123, 123, 123, 123],
    'qPOTS-q4': [94.3, 157, 160, 161, 163, 163.5, 164, 164, 164, 164.5, 164.5, 164.5, 164.5, 164.5, 165, 165, 165, 165.5, 165.5],
    'Sobol-q2': [94.3, 118, 118, 118, 118, 118, 118, 118.5, 118.5, 118.5, 119, 119, 119, 119, 121, 124, 126, 126, 126],
    'Sobol-q4': [94.3, 96, 97, 98, 99, 100, 101, 103, 104, 106, 108, 110, 112, 115, 120, 128, 130, 130, 130],
    'qNPAREGO-q4': [94.3, 70, 70.5, 71, 71.3, 71.5, 72, 76, 79, 81.5, 88, 91, 92, 94, 97, 99.2, 99.5, 100, 100.5],
}

color_of = dict(zip(methods, colors))


def style(name):
    thick = name.startswith('qPOTS')
    star = name.endswith('q2') or 'q2-' in name
    return thick, ('*' if star else 'o')


def draw(ax, x, mean, lo, hi, unit, band_alpha):
    x = np.array(x, dtype=float)
    # bands first, qPOTS bands last so they sit on top
    for name in reversed(methods):
        if name in lo:
            l = np.array(lo[name], dtype=float) * unit
            h = np.array(hi[name], dtype=float) * unit
            ax.fill_between(x, l, h, color=color_of[name], alpha=band_alpha, lw=0)
    for name in reversed(methods):
        if name not in mean:
            continue
        y = np.array(mean[name], dtype=float) * unit
        thick, mk = style(name)
        ax.plot(x, y, color=color_of[name], lw=3.0 if thick else 1.0,
                alpha=0.6 if thick else 0.7, marker=mk,
                ms=(4.5 if mk == '*' else 2.8) + (0.8 if thick else 0), mew=0.4)


fig = plt.figure(figsize=(12.52, 7.09), dpi=100)

W, H = 1252.0, 709.0
panels = [
    # left, right, top, bottom (pixels), title, data, unit, band alpha, ylim, yticks, xticks
    (70, 312, 25, 204, 'd = 2, K = 2', (bc_x, bc_mean, bc_lo, bc_hi), 1, 0.22,
     (3375, 5295), [3760, 4340, 5010], range(0, 51, 10)),
    (382, 626, 25, 204, 'd = 10, K = 2', (dtlz3_x, dtlz3_mean, dtlz3_lo, dtlz3_hi), 1e6, 0.22,
     (1.2585e6, 1.848e6), [1.35e6, 1.54e6, 1.76e6], range(0, 801, 200)),
    (694, 936, 25, 204, 'd = 5, K = 2', (dtlz7_x, dtlz7_mean, dtlz7_lo, dtlz7_hi), 1, 0.22,
     (329, 422), [349, 380, 414], range(0, 101, 20)),
    (1006, 1240, 25, 204, 'd = 10, K = 2', (zdt3_x, zdt3_mean, zdt3_lo, zdt3_hi), 1, 0.22,
     (113.6, 130.6), [116, 121, 126], range(0, 801, 200)),
    (70, 312, 313, 493, 'd = 7, K = 4', (car_x, car_mean, car_lo, car_hi), 1, 0.22,
     (251.5, 468.8), [272, 352, 455], range(0, 201, 25)),
    (382, 625, 313, 493, 'd = 7, K = 3', (pen_x, pen_mean, pen_lo, pen_hi), 1e3, 0.22,
     (280.1e3, 413.2e3), [3.07e5, 3.43e5, 3.84e5], range(0, 201, 25)),
    (694, 937, 313, 493, 'd = 5, K = 3', (veh_x, veh_mean, veh_lo, veh_hi), 1, 0.22,
     (146.7, 250.9), [159, 198, 245], range(0, 141, 20)),
    (1006, 1240, 313, 493, 'd = 6, K = 2, C = 6', (osy_x, osy_mean, osy_lo, osy_hi), 1e3, 0.33,
     (66e3, 173e3), [9.43e4, 1.24e5, 1.64e5], range(0, 121, 20)),
]

for left, right, top, bottom, title, data, unit, balpha, ylim, yticks, xticks in panels:
    ax = fig.add_axes([left / W, 1 - bottom / H, (right - left) / W, (bottom - top) / H])
    draw(ax, *data, unit, balpha)
    ax.set_yscale('log')
    ax.set_ylim(*ylim)
    ax.yaxis.set_major_locator(FixedLocator(yticks))
    ax.yaxis.set_major_formatter(FormatStrFormatter('%.2e'))
    ax.yaxis.set_minor_formatter(NullFormatter())
    ax.set_xticks(list(xticks))
    ax.tick_params(axis='both', which='major', labelsize=6, length=3, pad=2)
    ax.tick_params(axis='y', which='minor', length=2)
    ax.set_title(title, fontsize=9.5, pad=4)
    ax.set_xlabel('Number of Evaluations', fontsize=8.5, labelpad=1)
    ax.set_ylabel('Hypervolume', fontsize=8.5, labelpad=2)
    for s in ax.spines.values():
        s.set_linewidth(1.0)

captions = [
    (160, 270, '(a) Branin-Currin'), (466, 270, '(b) DTLZ3'),
    (782, 270, '(c) DTLZ7'), (1095, 270, '(d) ZDT3'),
    (145, 557, '(e) Car side-impact'), (472, 557, '(f) Penicillin production'),
    (780, 557, '(g) Vehicle design'), (1085, 557, '(h) OSY (constrained)'),
]
for cx, cy, text in captions:
    fig.text(cx / W, 1 - cy / H, text, fontsize=20, family=['cmr10', 'DejaVu Serif'],
             ha='center', va='center')

handles = []
for name in methods:
    thick, mk = style(name)
    handles.append(Line2D([], [], color=color_of[name], lw=5 if thick else 3, alpha=0.5,
                          marker=mk, ms=9 if mk == '*' else 6, label=name))
fig.legend(handles=handles, ncol=5, loc='lower left', mode='expand',
           bbox_to_anchor=(5 / W, 2 / H, 1242 / W, 0.165), borderaxespad=0,
           fontsize=13, handlelength=2.4, handletextpad=0.6, labelspacing=0.45,
           borderpad=0.75, edgecolor='0.8', fancybox=True)

fig.savefig('out.png', dpi=100)
